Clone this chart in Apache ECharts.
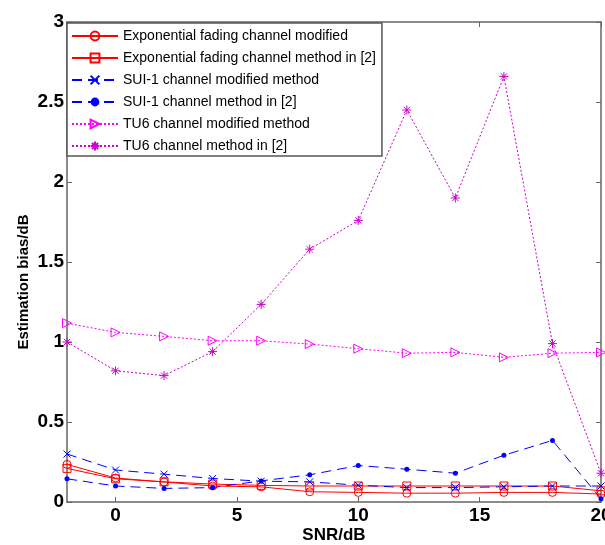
<!DOCTYPE html>
<html>
<head>
<meta charset="utf-8">
<script src="https://cdn.jsdelivr.net/npm/echarts@6/dist/echarts.min.js"></script>
<style>
html,body{margin:0;padding:0;background:#fff;}
#chart{width:605px;height:545px;}
</style>
</head>
<body>
<div id="chart"></div>
<script>
const snr = [-2, 0, 2, 4, 6, 8, 10, 12, 14, 16, 18, 20];
const expModified = [0.235, 0.15, 0.125, 0.10, 0.095, 0.064, 0.06, 0.055, 0.055, 0.06, 0.06, 0.05];
const expMethod2 = [0.21, 0.145, 0.126, 0.112, 0.104, 0.10, 0.10, 0.10, 0.10, 0.10, 0.10, 0.07];
const suiModified = [0.30, 0.20, 0.174, 0.147, 0.13, 0.126, 0.105, 0.09, 0.09, 0.095, 0.10, 0.10];
const suiMethod2 = [0.145, 0.10, 0.085, 0.09, 0.132, 0.17, 0.228, 0.205, 0.18, 0.292, 0.385, 0.02];
const tuModified = [1.118, 1.06, 1.035, 1.008, 1.008, 0.987, 0.958, 0.93, 0.935, 0.904, 0.93, 0.935];
const tuMethod2 = [1.0, 0.82, 0.79, 0.94, 1.235, 1.58, 1.76, 2.45, 1.90, 2.66, 0.99, 0.18];
const seriesNames = [
  'Exponential fading channel modified',
  'Exponential fading channel method in [2]',
  'SUI-1 channel modified method',
  'SUI-1 channel method in [2]',
  'TU6 channel modified method',
  'TU6 channel method in [2]'
];
const xTicks = [0, 5, 10, 15, 20];
const yTicks = [0, 0.5, 1, 1.5, 2, 2.5, 3];

const FONT = '"Liberation Sans", Arial, sans-serif';
const AX = '#666';
const pair = arr => snr.map((x, i) => [x, arr[i]]);

const SYM = {
  circle: 'path://M0,5A5,5,0,1,1,10,5A5,5,0,1,1,0,5Z',
  square: 'path://M0,0L10,0L10,10L0,10Z',
  cross: 'path://M0,0L10,10M10,0L0,10',
  tri: 'path://M0,0L10,5L0,10Z',
  star: 'path://M5,0L5,10M0,5L10,5M1.5,1.5L8.5,8.5M8.5,1.5L1.5,8.5'
};

function mk(name, data, color, lineType, symbol, size, filled) {
  return {
    name: name, type: 'line', data: pair(data), xAxisIndex: 0, yAxisIndex: 0,
    symbol: symbol, symbolSize: size, showAllSymbol: true,
    lineStyle: {color: color, width: 1, type: lineType},
    itemStyle: filled ? {color: color} : {color: 'none', borderColor: color, borderWidth: 1},
    emphasis: {disabled: true}, animation: false
  };
}

const chart = echarts.init(document.getElementById('chart'), null, {renderer: 'canvas'});
chart.setOption({
  animation: false,
  backgroundColor: '#fff',
  grid: {left: 67, right: 4, top: 22, bottom: 43, containLabel: false, outerBoundsMode: 'none'},
  legend: {
    orient: 'vertical', left: 67, top: 23,
    itemWidth: 46, itemHeight: 11, itemGap: 8,
    padding: [6, 6, 3, 4],
    backgroundColor: '#fff', borderColor: '#555', borderWidth: 1.5,
    textStyle: {fontFamily: FONT, fontSize: 14, color: '#000'},
    data: seriesNames
  },
  xAxis: [{
    type: 'value', min: -2, max: 20, position: 'bottom',
    name: 'SNR/dB', nameLocation: 'middle', nameGap: 25, nameMoveOverlap: false,
    nameTextStyle: {fontFamily: FONT, fontSize: 17, fontWeight: 'bold', color: '#000'},
    axisLine: {show: true, onZero: false, lineStyle: {color: AX, width: 1.5}},
    axisTick: {show: true, inside: true, length: 5, lineStyle: {color: AX}, customValues: xTicks},
    axisLabel: {show: true, margin: 4, fontFamily: FONT, fontSize: 19, fontWeight: 'bold', color: '#000', customValues: xTicks},
    splitLine: {show: false}
  }, {
    type: 'value', min: -2, max: 20, position: 'top',
    axisLine: {show: true, onZero: false, lineStyle: {color: AX, width: 1.5}},
    axisTick: {show: true, inside: true, length: 5, lineStyle: {color: AX}, customValues: xTicks},
    axisLabel: {show: false},
    splitLine: {show: false}
  }],
  yAxis: [{
    type: 'value', min: 0, max: 3, interval: 0.5, position: 'left',
    name: 'Estimation bias/dB', nameLocation: 'middle', nameGap: 36, nameRotate: 90, nameMoveOverlap: false,
    nameTextStyle: {fontFamily: FONT, fontSize: 15, fontWeight: 'bold', color: '#000', padding: [0, 40, 0, 0]},
    axisLine: {show: true, onZero: false, lineStyle: {color: AX, width: 1.5}},
    axisTick: {show: true, inside: true, length: 5, lineStyle: {color: AX}},
    axisLabel: {show: true, margin: 3, fontFamily: FONT, fontSize: 19, fontWeight: 'bold', color: '#000',
      formatter: v => String(yTicks.find(t => Math.abs(t - v) < 1e-9) ?? v)},
    splitLine: {show: false}
  }, {
    type: 'value', min: 0, max: 3, interval: 0.5, position: 'right',
    axisLine: {show: true, onZero: false, lineStyle: {color: AX, width: 1.5}},
    axisTick: {show: true, inside: true, length: 5, lineStyle: {color: AX}},
    axisLabel: {show: false},
    splitLine: {show: false}
  }],
  series: [
    mk(seriesNames[0], expModified, '#ff0000', 'solid', SYM.circle, 8, false),
    mk(seriesNames[1], expMethod2, '#ff0000', 'solid', SYM.square, 8, false),
    mk(seriesNames[2], suiModified, '#0000ff', [10, 6], SYM.cross, 7, false),
    mk(seriesNames[3], suiMethod2, '#0000ff', [10, 6], 'circle', 5, true),
    mk(seriesNames[4], tuModified, '#ff00ff', [2, 2], SYM.tri, 9, false),
    mk(seriesNames[5], tuMethod2, '#cc00cc', [2, 2], SYM.star, 9, false)
  ]
});
</script>
</body>
</html>
